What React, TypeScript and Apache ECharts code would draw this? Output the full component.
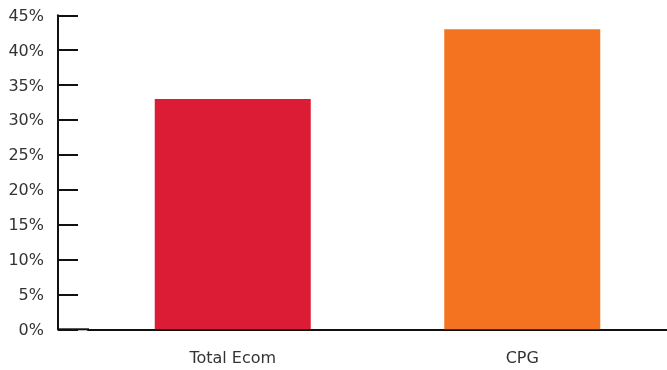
import React, { useEffect, useRef } from "react";
import * as echarts from "echarts";

const categories = ["Total Ecom", "CPG"];
const values = [33, 43];
const barColors = ["#DC1B34", "#F37321"];
const yTicks = [0, 5, 10, 15, 20, 25, 30, 35, 40, 45];

export default function App() {
  const ref = useRef<HTMLDivElement>(null);
  useEffect(() => {
    if (!ref.current) return;
    const chart = echarts.init(ref.current, null, { renderer: "svg" });
    const font = "'DejaVu Sans', sans-serif";
    chart.setOption({
      animation: false,
      grid: { left: 88, right: -4, top: 15.3, bottom: 40.7, containLabel: false },
      xAxis: {
        type: "category",
        data: categories,
        axisLine: { lineStyle: { color: "#111", width: 2 } },
        axisTick: { show: false },
        axisLabel: { color: "#333", fontSize: 16, fontFamily: font, margin: 20 },
      },
      yAxis: {
        type: "value",
        min: yTicks[0],
        max: yTicks[yTicks.length - 1],
        interval: 5,
        offset: 30,
        axisLine: { show: true, lineStyle: { color: "#111", width: 2 } },
        axisTick: { show: true, inside: true, length: 20, lineStyle: { color: "#111", width: 2 } },
        splitLine: { show: false },
        axisLabel: {
          color: "#333",
          fontSize: 16,
          fontFamily: font,
          margin: 14,
          formatter: (v: number) => `${v}%`,
        },
      },
      graphic: [
        {
          type: "line",
          shape: { x1: 57, y1: 329.3, x2: 89, y2: 329.3 },
          style: { stroke: "#111", lineWidth: 2 },
          z: 10,
        },
      ],
      series: [
        {
          type: "bar",
          barWidth: 156,
          data: values.map((v, i) => ({ value: v, itemStyle: { color: barColors[i] } })),
        },
      ],
    });
    return () => chart.dispose();
  }, []);
  return (
    <div
      ref={ref}
      style={{ position: "fixed", left: 0, top: 0, width: 667, height: 370 }}
    />
  );
}
